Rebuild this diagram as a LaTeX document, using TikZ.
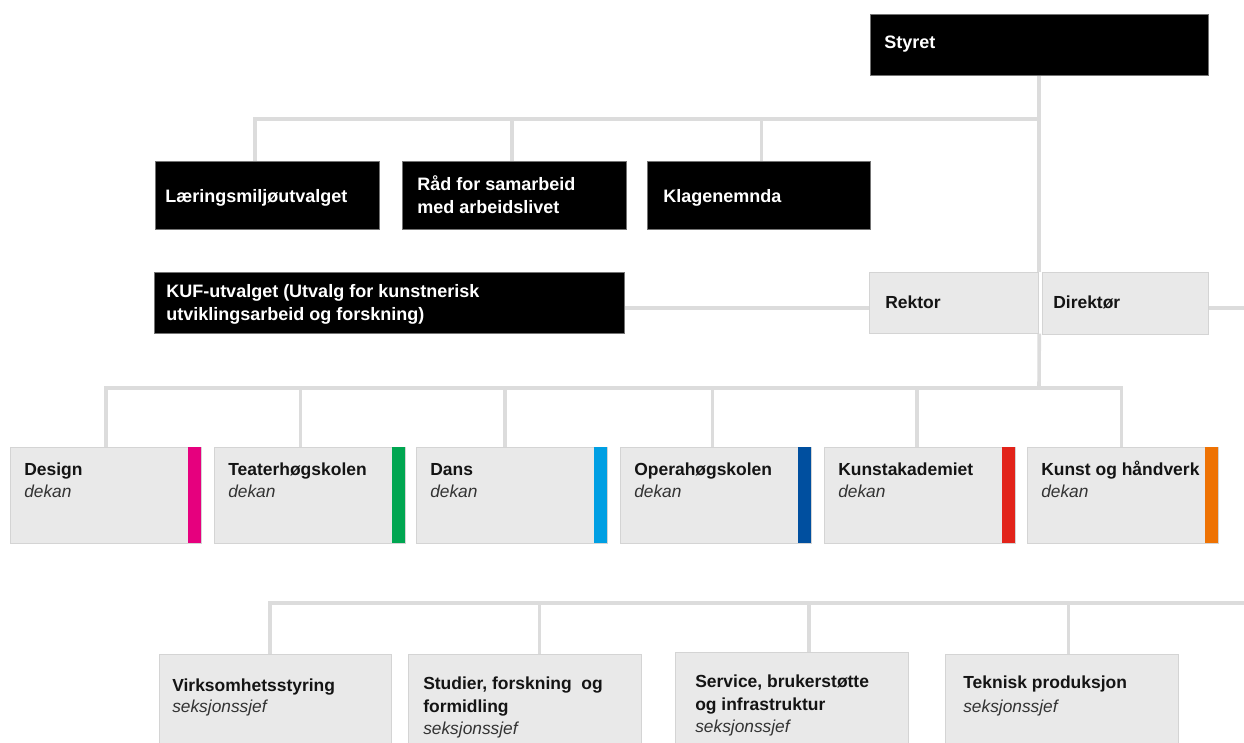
\documentclass[tikz,border=0pt]{standalone}
\usepackage{fontspec}
\setmainfont{Liberation Sans}
\pgfdeclarelayer{bg}
\pgfsetlayers{bg,main}
\newcommand{\twolines}[2]{\vtop{\hbox{#1}\hbox{#2}}}
\definecolor{linegray}{RGB}{220,220,220}
\definecolor{boxgray}{RGB}{233,233,233}
\definecolor{edgegray}{RGB}{212,212,212}
\definecolor{cdesign}{RGB}{230,0,126}
\definecolor{cteater}{RGB}{0,166,81}
\definecolor{cdans}{RGB}{0,159,227}
\definecolor{copera}{RGB}{0,79,159}
\definecolor{ckunst}{RGB}{226,35,26}
\definecolor{ckoh}{RGB}{238,114,3}
\begin{document}
\begin{tikzpicture}[x=0.75pt,y=-0.75pt,
  conn/.style={draw=linegray, line width=2.7pt},
  sz/.style n args={2}{minimum width=#1*0.75pt, minimum height=#2*0.75pt},
  bbox/.style={fill=black, draw=black!55, line width=0.4pt, inner sep=0pt, anchor=north west},
  gbox/.style={fill=boxgray, draw=edgegray, line width=0.5pt, inner sep=0pt, anchor=north west},
  cbar/.style={inner sep=0pt, anchor=north east, minimum width=9.75pt, minimum height=72pt},
  wtxt/.style={text=white, font=\fontsize{13.5}{17.25}\selectfont\bfseries, inner sep=0pt, anchor=base west},
  ttl/.style={text=black!92, font=\fontsize{13.1}{17.25}\selectfont\bfseries, inner sep=0pt, anchor=base west},
  role/.style={text=black!80, font=\fontsize{13}{16}\selectfont\itshape, inner sep=0pt, anchor=base west},
]
\path[use as bounding box] (0,0) rectangle (1244,742);

% top level
\node[bbox, sz={338}{61}] (styret) at (870,14) {};
\node[wtxt] (styretT) at ([shift={(14,35)}]styret.north west) {Styret};

\node[bbox, sz={224}{68}] (laer) at (155,161) {};
\node[wtxt] (laerT) at ([shift={(10,41)}]laer.north west) {Læringsmiljøutvalget};
\node[bbox, sz={224}{68}] (raad) at (402,161) {};
\node[wtxt] (raadT) at ([shift={(15,29)}]raad.north west) {\twolines{Råd for samarbeid}{med arbeidslivet}};
\node[bbox, sz={223}{68}] (klage) at (647,161) {};
\node[wtxt] (klageT) at ([shift={(16,41)}]klage.north west) {Klagenemnda};

\node[bbox, sz={470}{61}] (kuf) at (154,272) {};
\node[wtxt] (kufT) at ([shift={(12,25)}]kuf.north west) {\twolines{KUF-utvalget (Utvalg for kunstnerisk}{utviklingsarbeid og forskning)}};

\node[gbox, sz={169}{61}] (rektor) at (869,272) {};
\node[ttl] (rektorT) at ([shift={(16,36)}]rektor.north west) {Rektor};
\node[gbox, sz={166}{62}] (direktor) at (1042,272) {};
\node[ttl] (direktorT) at ([shift={(11,36)}]direktor.north west) {Direktør};

% deans
\foreach \n/\x/\t/\c in {design/10/Design/cdesign, teater/214/Teaterhøgskolen/cteater, dans/416/Dans/cdans, opera/620/Operahøgskolen/copera, kunst/824/Kunstakademiet/ckunst, koh/1027/Kunst og håndverk/ckoh}{
  \node[gbox, sz={191}{96}] (\n) at (\x,447) {};
  \node[cbar, fill=\c] (\n bar) at (\n.north east) {};
  \node[ttl] (\n T) at ([shift={(14,28)}]\n.north west) {\t};
  \node[role] (\n R) at ([shift={(14,50)}]\n.north west) {dekan};
}

% sections
\node[gbox, sz={232}{100}] (virk) at (159,654) {};
\node[ttl] (virkT) at ([shift={(13,37)}]virk.north west) {Virksomhetsstyring};
\node[role] (virkR) at ([shift={(13,58)}]virk.north west) {seksjonssjef};

\node[gbox, sz={233}{100}] (stud) at (408,654) {};
\node[ttl] (studT) at ([shift={(15,35)}]stud.north west) {\twolines{Studier, forskning\ \ og}{formidling}};
\node[role] (studR) at ([shift={(15,80)}]stud.north west) {seksjonssjef};

\node[gbox, sz={233}{100}] (serv) at (675,652) {};
\node[ttl] (servT) at ([shift={(20,35)}]serv.north west) {\twolines{Service, brukerstøtte}{og infrastruktur}};
\node[role] (servR) at ([shift={(20,80)}]serv.north west) {seksjonssjef};

\node[gbox, sz={233}{100}] (tek) at (945,654) {};
\node[ttl] (tekT) at ([shift={(18,34)}]tek.north west) {Teknisk produksjon};
\node[role] (tekR) at ([shift={(18,58)}]tek.north west) {seksjonssjef};

% connectors
\coordinate (h1) at (1039,119);
\coordinate (h2) at (1039,388);
\coordinate (h3) at (1244,603);
\coordinate (e1) at (1244,308);
\begin{pgfonlayer}{bg}
  \draw[conn] (styret.south) -- (styret.south |- rektor.north);
  \draw[conn] (styret.south |- rektor.south) -- (h2);
  \draw[conn] ([xshift=-9pt]laer.north) |- (h1);
  \draw[conn] ([xshift=-1.5pt]raad.north) |- (h1);
  \draw[conn] ([xshift=2pt]klage.north) |- (h1);
  \draw[conn] ([yshift=-4pt]kuf.east) -- ([yshift=-4pt]kuf.east -| rektor.west);
  \draw[conn] (direktor.east |- e1) -- (e1);
  \draw[conn] (design.north) |- (h2);
  \draw[conn] ([xshift=-7pt]teater.north) |- (h2);
  \draw[conn] ([xshift=-5pt]dans.north) |- (h2);
  \draw[conn] ([xshift=-2.5pt]opera.north) |- (h2);
  \draw[conn] ([xshift=-2pt]kunst.north) |- (h2);
  \draw[conn] ([xshift=-1pt]koh.north) |- (h2);
  \draw[conn] ([xshift=-4pt]virk.north) |- (h3);
  \draw[conn] ([xshift=11pt]stud.north) |- (h3);
  \draw[conn] ([xshift=13pt]serv.north) |- (h3);
  \draw[conn] ([xshift=5pt]tek.north) |- (h3);
\end{pgfonlayer}
\end{tikzpicture}
\end{document}
